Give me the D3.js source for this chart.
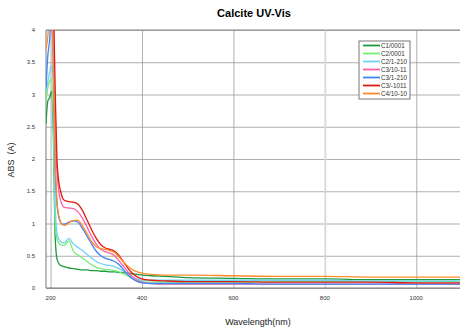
<!DOCTYPE html>
<html>
<head>
<meta charset="utf-8">
<script src="https://cdn.jsdelivr.net/npm/d3@7"></script>
<style>
  body { margin: 0; background: #fff; }
  svg { font-family: "Liberation Sans", Arial, sans-serif; }
</style>
</head>
<body>
<svg width="460" height="334"></svg>
<script>
// wavelengths shared by every sample (nm)
var wavelength = [190, 194, 198, 202, 206, 210, 214, 218, 222, 226, 230, 240, 250, 260, 270, 280, 290, 300,
                  310, 320, 330, 340, 350, 360, 370, 380, 390, 400, 420, 450, 500, 600, 700, 800, 900, 1000, 1100];

var sampleNames = ["C1/0001", "C2/0001", "C2/1-210", "C3/10-11", "C3/1-210", "C3/-1011", "C4/10-10"];
var sampleColors = ["#1f9a3c", "#74ee74", "#6fd3f5", "#ff5fa8", "#3d86f5", "#e01a10", "#ff8a2a"];

var c1_0001  = [2.55, 2.9, 2.95, 3.05, 2.4, 0.8, 0.45, 0.38, 0.35, 0.34, 0.33, 0.31, 0.30, 0.29, 0.28, 0.28, 0.27, 0.27,
                0.26, 0.26, 0.25, 0.25, 0.24, 0.24, 0.23, 0.22, 0.21, 0.20, 0.19, 0.18, 0.16, 0.15, 0.14, 0.14, 0.13, 0.13, 0.13];
var c2_0001  = [2.9, 3.1, 3.2, 3.25, 2.6, 1.0, 0.76, 0.70, 0.67, 0.66, 0.66, 0.73, 0.57, 0.51, 0.46, 0.41, 0.36, 0.32,
                0.30, 0.29, 0.28, 0.27, 0.25, 0.22, 0.18, 0.14, 0.11, 0.10, 0.09, 0.09, 0.09, 0.09, 0.10, 0.10, 0.10, 0.10, 0.10];
var c2_1210  = [3.05, 3.2, 3.35, 3.45, 3.2, 1.3, 0.86, 0.76, 0.72, 0.70, 0.70, 0.77, 0.68, 0.63, 0.58, 0.52, 0.46, 0.41,
                0.38, 0.36, 0.35, 0.33, 0.30, 0.26, 0.21, 0.17, 0.14, 0.12, 0.12, 0.12, 0.12, 0.12, 0.12, 0.12, 0.11, 0.11, 0.11];
var c3_1011  = [4.3, 4.3, 4.3, 4.3, 4.3, 2.6, 1.8, 1.5, 1.35, 1.28, 1.25, 1.24, 1.23, 1.18, 1.08, 0.94, 0.80, 0.68,
                0.60, 0.56, 0.54, 0.50, 0.42, 0.33, 0.24, 0.17, 0.12, 0.09, 0.07, 0.06, 0.06, 0.06, 0.06, 0.06, 0.06, 0.06, 0.06];
var c3_1210  = [3.1, 3.6, 3.85, 4.3, 3.4, 1.9, 1.3, 1.1, 1.02, 0.99, 0.99, 1.02, 1.04, 1.02, 0.92, 0.80, 0.68, 0.57,
                0.50, 0.46, 0.44, 0.41, 0.36, 0.28, 0.20, 0.14, 0.10, 0.08, 0.07, 0.07, 0.07, 0.07, 0.06, 0.06, 0.06, 0.06, 0.06];
var c3_m1011 = [4.3, 4.3, 4.3, 4.3, 4.3, 3.1, 2.0, 1.65, 1.5, 1.4, 1.36, 1.34, 1.33, 1.30, 1.20, 1.05, 0.90, 0.77,
                0.67, 0.62, 0.60, 0.57, 0.50, 0.40, 0.30, 0.22, 0.17, 0.14, 0.12, 0.11, 0.10, 0.10, 0.09, 0.09, 0.09, 0.08, 0.08];
var c4_1010  = [3.7, 3.9, 4.3, 4.3, 3.5, 2.0, 1.35, 1.12, 1.02, 0.98, 0.97, 1.01, 1.05, 1.05, 0.96, 0.84, 0.72, 0.64,
                0.61, 0.60, 0.58, 0.55, 0.48, 0.40, 0.33, 0.28, 0.25, 0.23, 0.21, 0.20, 0.20, 0.19, 0.18, 0.18, 0.17, 0.17, 0.17];

var xTicks = [200, 400, 600, 800, 1000];
var yTicks = [0, 0.5, 1, 1.5, 2, 2.5, 3, 3.5, 4];

var series = [c1_0001, c2_0001, c2_1210, c3_1011, c3_1210, c3_m1011, c4_1010];

var svg = d3.select("svg"),
    margin = {top: 30, right: -2, bottom: 46, left: 46},
    width = +svg.attr("width") - margin.left - margin.right,
    height = +svg.attr("height") - margin.top - margin.bottom;

var x = d3.scaleLinear().domain([190, 1100]).range([0, width]),
    y = d3.scaleLinear().domain([0, 4]).range([height, 0]);

var g = svg.append("g")
    .attr("transform", "translate(" + margin.left + "," + margin.top + ")");

svg.append("defs").append("clipPath")
    .attr("id", "clip")
    .append("rect")
    .attr("width", width)
    .attr("height", height);

// gridlines
g.append("g")
    .attr("class", "grid")
    .call(d3.axisLeft(y).tickValues(yTicks).tickSize(-width).tickFormat(""))
    .call(function(s) { s.select(".domain").remove(); })
    .selectAll("line").attr("stroke", "#9a9a9a").attr("stroke-width", 0.8);

g.append("g")
    .attr("class", "grid")
    .attr("transform", "translate(0," + height + ")")
    .call(d3.axisBottom(x).tickValues(xTicks).tickSize(-height).tickFormat(""))
    .call(function(s) { s.select(".domain").remove(); })
    .selectAll("line")
    .attr("stroke", function(d) { return d === 800 ? "#d8d8d8" : "#9a9a9a"; })
    .attr("stroke-width", function(d) { return d === 800 ? 1.8 : 0.8; });

// frame lines
g.append("line").attr("x1", 0).attr("x2", 0).attr("y1", 0).attr("y2", height)
    .attr("stroke", "#777").attr("stroke-width", 1);
g.append("line").attr("x1", 0).attr("x2", width).attr("y1", height).attr("y2", height)
    .attr("stroke", "#777").attr("stroke-width", 1);
g.append("line").attr("x1", 0).attr("x2", width).attr("y1", 0).attr("y2", 0)
    .attr("stroke", "#888").attr("stroke-width", 1);

// tick labels
g.selectAll("text.ylab")
    .data(yTicks)
    .enter().append("text")
    .attr("class", "ylab")
    .attr("x", -11)
    .attr("y", function(d) { return y(d) + 2; })
    .attr("text-anchor", "end")
    .style("font-size", "6px")
    .style("fill", "#333")
    .text(function(d) { return d; });

g.selectAll("text.xlab")
    .data(xTicks)
    .enter().append("text")
    .attr("class", "xlab")
    .attr("x", function(d) { return x(d); })
    .attr("y", height + 12)
    .attr("text-anchor", "middle")
    .style("font-size", "6px")
    .style("fill", "#333")
    .text(function(d) { return d; });

// curves
var line = d3.line()
    .curve(d3.curveMonotoneX)
    .x(function(d, i) { return x(wavelength[i]); })
    .y(function(d) { return y(d); });

g.append("g")
    .attr("clip-path", "url(#clip)")
    .selectAll("path")
    .data(series)
    .enter().append("path")
    .attr("fill", "none")
    .attr("stroke", function(d, i) { return sampleColors[i]; })
    .attr("stroke-width", 1.3)
    .attr("d", line);

// title and axis titles
svg.append("text")
    .attr("x", 254)
    .attr("y", 17)
    .attr("text-anchor", "middle")
    .style("font-size", "11px")
    .style("font-weight", "bold")
    .text("Calcite UV-Vis");

svg.append("text")
    .attr("x", 258)
    .attr("y", 325)
    .attr("text-anchor", "middle")
    .style("font-size", "9px")
    .style("fill", "#222")
    .text("Wavelength(nm)");

svg.append("text")
    .attr("transform", "translate(14,160) rotate(-90)")
    .attr("text-anchor", "middle")
    .style("font-size", "9px")
    .style("fill", "#222")
    .style("white-space", "pre")
    .text("ABS  (A)");

// legend
var legend = svg.append("g").attr("transform", "translate(359,41)");
legend.append("rect")
    .attr("width", 51)
    .attr("height", 58)
    .attr("fill", "#fff")
    .attr("stroke", "#777")
    .attr("stroke-width", 1);

var item = legend.selectAll("g.item")
    .data(sampleNames)
    .enter().append("g")
    .attr("class", "item")
    .attr("transform", function(d, i) { return "translate(0," + (4.5 + i * 8) + ")"; });

item.append("line")
    .attr("x1", 4).attr("x2", 21)
    .attr("stroke", function(d, i) { return sampleColors[i]; })
    .attr("stroke-width", 1.8);

item.append("text")
    .attr("x", 22)
    .attr("y", 2.2)
    .style("font-size", "6.3px")
    .style("fill", "#333")
    .text(function(d) { return d; });
</script>
</body>
</html>
